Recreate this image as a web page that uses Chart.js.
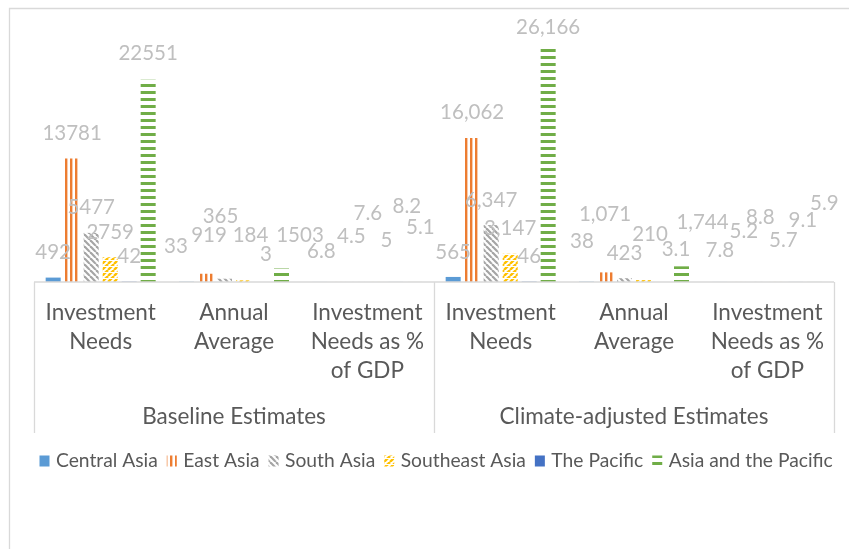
<!DOCTYPE html>
<html>
<head>
<meta charset="utf-8">
<title>Infrastructure Investment Needs by Region</title>
<script src="https://cdn.jsdelivr.net/npm/chart.js@4.4.1/dist/chart.umd.min.js"></script>
<style>
  html, body { margin: 0; padding: 0; background: #ffffff; }
  #c { display: block; }
</style>
</head>
<body>
<canvas id="c" width="849" height="549"></canvas>
<script>
// ---- data ----
const groups = ['Baseline Estimates', 'Climate-adjusted Estimates'];
const measures = [['Investment', 'Needs'], ['Annual', 'Average'], ['Investment', 'Needs as %', 'of GDP']];
const regions = ['Central Asia', 'East Asia', 'South Asia', 'Southeast Asia', 'The Pacific', 'Asia and the Pacific'];

// order: baseline (needs, annual avg, % GDP), climate-adjusted (needs, annual avg, % GDP)
const centralAsia   = [492,   33,   6.8, 565,   38,   7.8];
const eastAsia      = [13781, 919,  4.5, 16062, 1071, 5.2];
const southAsia     = [5477,  365,  7.6, 6347,  423,  8.8];
const southeastAsia = [2759,  184,  5,   3147,  210,  5.7];
const thePacific    = [42,    3,    8.2, 46,    3.1,  9.1];
const asiaPacific   = [22551, 1503, 5.1, 26166, 1744, 5.9];

const yMax = 30000;

// ---- fills ----
const canvas = document.getElementById('c');
const ctx = canvas.getContext('2d');

function tilePattern(w, h, paint) {
  const t = document.createElement('canvas');
  t.width = w; t.height = h;
  const g = t.getContext('2d');
  g.fillStyle = '#ffffff';
  g.fillRect(0, 0, w, h);
  paint(g, w, h);
  return ctx.createPattern(t, 'repeat');
}

const ORANGE = '#ED7D31', GRAY = '#A5A5A5', GOLD = '#FFC000', GREEN = '#70AD47';

const fillCentral = '#5B9BD5';
const fillEast = tilePattern(5, 4, (g) => { g.fillStyle = ORANGE; g.fillRect(0, 0, 2.4, 4); });
const fillSouth = tilePattern(6, 6, (g) => {
  g.strokeStyle = GRAY; g.lineWidth = 2.2;
  for (let k = -1; k <= 1; k++) { g.beginPath(); g.moveTo(k * 6, 0); g.lineTo(k * 6 + 6, 6); g.stroke(); }
});
const fillSoutheast = tilePattern(6, 6, (g) => {
  g.strokeStyle = GOLD; g.lineWidth = 2.4;
  for (let k = -1; k <= 1; k++) { g.beginPath(); g.moveTo(k * 6, 6); g.lineTo(k * 6 + 6, 0); g.stroke(); }
  g.fillStyle = '#ffffff'; g.fillRect(0, 2, 6, 1);
});
const fillPacific = '#4472C4';
const fillAsiaPacific = tilePattern(4, 7, (g) => { g.fillStyle = GREEN; g.fillRect(0, 0, 4, 3); });

const seriesValues = [centralAsia, eastAsia, southAsia, southeastAsia, thePacific, asiaPacific];
const seriesFills = [fillCentral, fillEast, fillSouth, fillSoutheast, fillPacific, fillAsiaPacific];

const categoryLabels = groups.flatMap(() => measures.map(m => m.join(' ')));

// ---- drawing helpers ----
const TEXT = '#595959';
const LABEL = '#BFBFBF';
const RULE = '#D9D9D9';
const FONT = 'Lato, "Open Sans", sans-serif';

// label placement around each bar top: [dx, rise] per category, per region
const labelOffsets = [
  [[0, 25], [0, 25], [0, 25], [0, 25], [0, 25], [0, 26]],
  [[-10.5, 35], [3.5, 38.7], [-4, 62], [7, 45.3], [3.5, 28], [18.5, 33.5]],
  [[1.5, 30.3], [12.5, 45.3], [10, 69], [9.5, 41.3], [11, 75.3], [5.5, 55]],
  [[0, 24.3], [0, 25.7], [0, 25], [0, 25.4], [0, 25], [0, 20]],
  [[-4.5, 40], [-0.5, 58.4], [0, 24.9], [6.5, 46.1], [13.5, 32.7], [21, 43.6]],
  [[0, 31.3], [5, 50.3], [2.5, 64.7], [6.5, 42], [7, 61.3], [9.5, 78.7]]
];

function formatValue(v, idx) {
  return idx < measures.length ? String(v) : v.toLocaleString('en-US');
}

const decorations = {
  id: 'decorations',
  beforeDraw(chart) {
    const g = chart.ctx;
    g.save();
    g.fillStyle = '#ffffff';
    g.fillRect(0, 0, chart.width, chart.height);
    // outer frame
    g.strokeStyle = RULE; g.lineWidth = 1.3;
    g.beginPath();
    g.moveTo(9.5, chart.height + 2); g.lineTo(9.5, 8.5); g.lineTo(chart.width + 2, 8.5);
    g.stroke();
    g.restore();
  },
  afterDatasetsDraw(chart) {
    const g = chart.ctx;
    const area = chart.chartArea;
    const xs = chart.scales.x;
    const n = measures.length;
    const step = (area.right - area.left) / (n * groups.length);
    const axisBottom = 433;

    g.save();
    // axis rule and group separators
    g.strokeStyle = RULE; g.lineWidth = 1.3;
    g.beginPath();
    g.moveTo(area.left, area.bottom); g.lineTo(area.right, area.bottom);
    for (let k = 0; k <= groups.length; k++) {
      const x = Math.round(area.left + k * n * step) + 0.5;
      g.moveTo(x, area.bottom); g.lineTo(x, axisBottom);
    }
    g.stroke();

    // category labels
    g.fillStyle = TEXT;
    g.textAlign = 'center'; g.textBaseline = 'middle';
    g.font = '22.5px ' + FONT;
    categoryLabels.forEach((_, idx) => {
      const x = xs.getPixelForValue(idx);
      measures[idx % n].forEach((line, li) => g.fillText(line, x, 313 + li * 29));
    });
    // group labels
    groups.forEach((name, k) => {
      const x = area.left + (k + 0.5) * n * step;
      g.fillText(name, x, 417);
    });

    // value labels
    g.fillStyle = LABEL;
    g.font = '20.5px ' + FONT;
    chart.data.datasets.forEach((ds, di) => {
      const meta = chart.getDatasetMeta(di);
      meta.data.forEach((bar, idx) => {
        const [dx, rise] = labelOffsets[idx][di];
        g.fillText(formatValue(ds.data[idx], idx), bar.x + dx, bar.y - rise);
      });
    });

    // legend
    g.font = '19.25px ' + FONT;
    g.textAlign = 'left';
    let x = 39.5;
    const cy = 461;
    regions.forEach((name, i) => {
      g.fillStyle = seriesFills[i];
      g.fillRect(x, cy - 5.5, 10, 11);
      g.fillStyle = TEXT;
      g.fillText(name, x + 16.5, cy);
      x += 16.5 + g.measureText(name).width + 9;
    });
    g.restore();
  }
};

new Chart(canvas, {
  type: 'bar',
  data: {
    labels: categoryLabels,
    datasets: regions.map((name, i) => ({
      label: name,
      data: seriesValues[i],
      backgroundColor: seriesFills[i],
      borderWidth: 0,
      categoryPercentage: 0.855,
      barPercentage: 0.79
    }))
  },
  options: {
    responsive: false,
    animation: false,
    devicePixelRatio: 1,
    layout: { padding: { left: 34, right: 15, top: 13, bottom: 267 } },
    scales: {
      x: { display: false },
      y: { display: false, min: 0, max: yMax }
    },
    plugins: {
      legend: { display: false },
      tooltip: { enabled: false }
    }
  },
  plugins: [decorations]
});
</script>
</body>
</html>
